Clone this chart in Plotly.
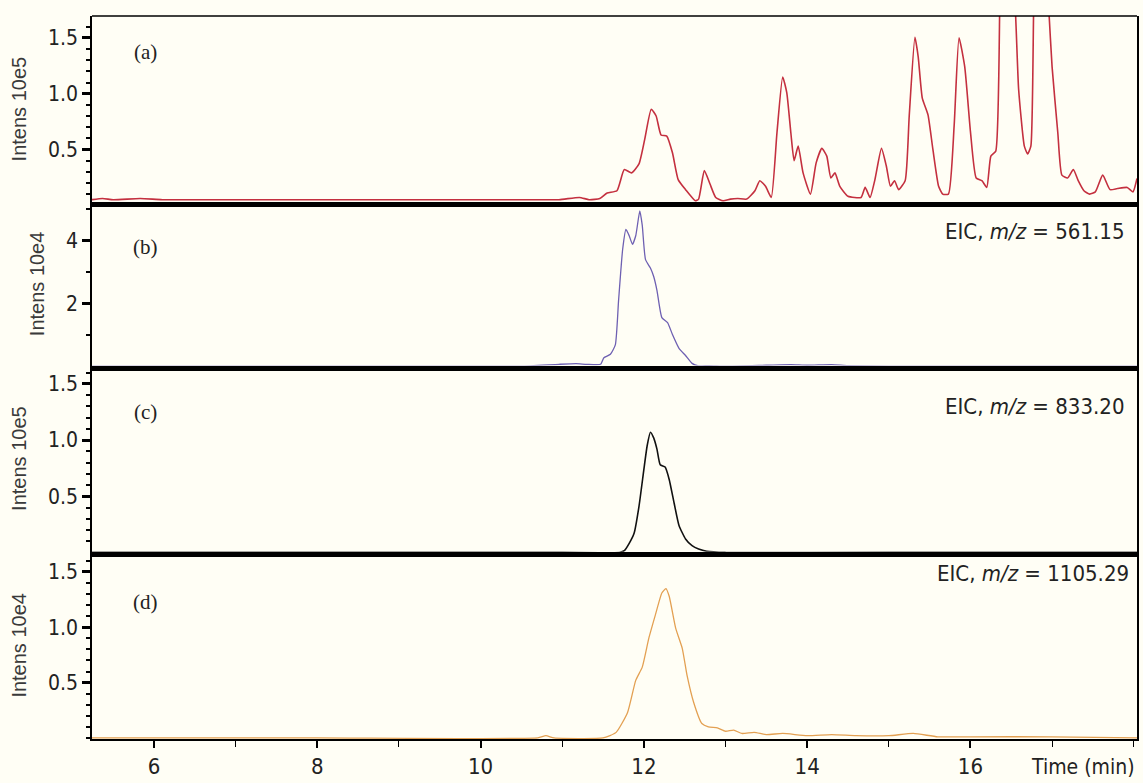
import plotly.graph_objects as go

# ---------------- data ----------------
# (a) total ion chromatogram, intensity in units of 1e5
A_t = [5.24, 5.37, 5.5, 5.83, 6.1, 6.5, 7.0, 7.5, 8.0, 8.5, 9.0, 9.5, 10.0, 10.5, 10.96,
       11.21, 11.33, 11.46, 11.55, 11.67, 11.76, 11.85, 11.94, 12.01, 12.09, 12.15, 12.21,
       12.28, 12.35, 12.42, 12.51, 12.63, 12.67, 12.74, 12.81, 12.88, 12.97, 13.06, 13.15,
       13.26, 13.36, 13.42, 13.49, 13.56, 13.63, 13.70, 13.75, 13.80, 13.84, 13.89, 13.95,
       14.04, 14.11, 14.18, 14.24, 14.29, 14.34, 14.40, 14.50, 14.66, 14.71, 14.77, 14.83,
       14.91, 14.97, 15.02, 15.07, 15.12, 15.20, 15.25, 15.32, 15.36, 15.41, 15.48, 15.54,
       15.61, 15.66, 15.73, 15.80, 15.86, 15.93, 16.00, 16.07, 16.14, 16.20, 16.25, 16.31,
       16.37, 16.45, 16.55, 16.59, 16.66, 16.70, 16.74, 16.78, 16.86, 16.96, 17.00, 17.07,
       17.12, 17.19, 17.26, 17.32, 17.39, 17.46, 17.53, 17.62, 17.71, 17.80, 17.92, 17.99, 18.04]
A_v = [0.05, 0.06, 0.05, 0.06, 0.05, 0.05, 0.05, 0.05, 0.05, 0.05, 0.05, 0.05, 0.05, 0.05, 0.05,
       0.07, 0.05, 0.06, 0.11, 0.13, 0.32, 0.29, 0.37, 0.59, 0.86, 0.80, 0.63,
       0.62, 0.47, 0.23, 0.14, 0.04, 0.055, 0.31, 0.19, 0.07, 0.04, 0.055, 0.06,
       0.055, 0.13, 0.22, 0.17, 0.07, 0.65, 1.15, 1.01, 0.65, 0.40, 0.53, 0.29,
       0.10, 0.38, 0.51, 0.44, 0.245, 0.29, 0.17, 0.08, 0.07, 0.16, 0.07, 0.23,
       0.51, 0.35, 0.17, 0.22, 0.14, 0.22, 0.80, 1.505, 1.33, 0.96, 0.81, 0.50,
       0.17, 0.10, 0.10, 0.71, 1.50, 1.24, 0.66, 0.245, 0.22, 0.16, 0.44, 0.485,
       2.2, 2.8, 1.75, 1.04, 0.53, 0.46, 0.53, 2.0, 3.0, 1.75, 1.24, 0.65,
       0.27, 0.245, 0.32, 0.22, 0.13, 0.10, 0.12, 0.27, 0.14, 0.15, 0.16, 0.12, 0.24]

# (b) EIC m/z 561.15, intensity in units of 1e4
B_t = [5.24, 6.0, 7.0, 8.0, 9.0, 10.0, 10.5, 10.96, 11.17, 11.3, 11.47, 11.51, 11.59, 11.65,
       11.69, 11.74, 11.78, 11.82, 11.86, 11.90, 11.95, 11.98, 12.02, 12.08, 12.12, 12.16,
       12.22, 12.29, 12.35, 12.43, 12.51, 12.59, 12.67, 12.8, 13.0, 13.5, 13.8, 14.0, 14.3,
       14.5, 15.0, 16.0, 17.0, 18.04]
B_v = [0, 0, 0, 0, 0, 0, 0, 0.06, 0.08, 0.06, 0.06, 0.27, 0.38, 0.68,
       2.10, 3.73, 4.36, 4.16, 3.89, 4.16, 4.95, 4.49, 3.40, 3.13, 2.86, 2.42,
       1.55, 1.39, 1.01, 0.57, 0.34, 0.09, 0.01, 0.02, 0, 0.03, 0.05, 0.03, 0.05,
       0.02, 0, 0, 0, 0]

# (c) EIC m/z 833.20, intensity in units of 1e5
C_t = [5.24, 8.0, 11.0, 11.70, 11.76, 11.82, 11.88, 11.94, 12.00, 12.04, 12.08, 12.12, 12.16,
       12.20, 12.26, 12.31, 12.37, 12.43, 12.51, 12.59, 12.67, 12.77, 13.0, 15.0, 18.04]
C_v = [0, 0, 0, 0, 0.015, 0.08, 0.17, 0.41, 0.74, 0.95, 1.07, 1.02, 0.92,
       0.78, 0.76, 0.65, 0.44, 0.24, 0.12, 0.06, 0.03, 0.01, 0, 0, 0]

# (d) EIC m/z 1105.29, intensity in units of 1e4
D_t = [5.24, 8.0, 10.7, 10.8, 10.9, 11.5, 11.66, 11.80, 11.90, 11.98, 12.06, 12.14, 12.22,
       12.27, 12.31, 12.39, 12.47, 12.53, 12.61, 12.71, 12.79, 12.90, 13.0, 13.1, 13.2,
       13.35, 13.5, 13.7, 14.0, 14.3, 14.6, 15.0, 15.3, 15.6, 16.0, 17.0, 18.04]
D_v = [0, 0, 0, 0.02, 0, 0, 0.05, 0.23, 0.52, 0.64, 0.90, 1.11, 1.31,
       1.35, 1.28, 0.99, 0.81, 0.56, 0.32, 0.13, 0.10, 0.09, 0.06, 0.07, 0.04,
       0.05, 0.03, 0.04, 0.02, 0.03, 0.02, 0.02, 0.04, 0.01, 0.01, 0.01, 0]

panel_letters = ["(a)", "(b)", "(c)", "(d)"]
y_titles = ["Intens 10e5", "Intens 10e4", "Intens 10e5", "Intens 10e4"]
eic_labels = [None, "EIC, <i>m/z</i> = 561.15", "EIC, <i>m/z</i> = 833.20", "EIC, <i>m/z</i> = 1105.29"]
x_ticks = [6, 8, 10, 12, 14, 16]
y_ticks = [[0.5, 1.0, 1.5], [2, 4], [0.5, 1.0, 1.5], [0.5, 1.0, 1.5]]
y_ticktext = [["0.5", "1.0", "1.5"], ["2", "4"], ["0.5", "1.0", "1.5"], ["0.5", "1.0", "1.5"]]

# ---------------- styling ----------------
BG = "#fffef5"
NARROW = "Liberation Sans Narrow, Arial Narrow, DejaVu Sans Condensed, Liberation Sans, Arial, sans-serif"
colors = ["#c4303f", "#6e60b2", "#111111", "#e3a052"]
widths = [1.6, 1.3, 1.6, 1.3]
series = [(A_t, A_v), (B_t, B_v), (C_t, C_v), (D_t, D_v)]
domains = [[0.7424, 1.0], [0.5165, 0.7424], [0.2590, 0.5165], [0.0, 0.2590]]
y_ranges = [[0.027, 1.696], [0.02, 5.23], [0.006, 1.664], [-0.01, 1.683]]
minor_dt = [0.1, 1, 0.1, 0.1]
xr = [5.24, 18.04]

fig = go.Figure()
for i, (t, v) in enumerate(series):
    sfx = "" if i == 0 else str(i + 1)
    fig.add_trace(go.Scatter(x=t, y=v, mode="lines", xaxis="x" + sfx, yaxis="y" + sfx,
                             line=dict(color=colors[i], width=widths[i], shape="spline",
                                       smoothing=0.5),
                             showlegend=False, hoverinfo="skip"))

layout = dict(
    width=1143, height=783,
    margin=dict(l=92, r=4, t=16, b=41),
    paper_bgcolor=BG, plot_bgcolor=BG,
    showlegend=False,
)
for i in range(4):
    sfx = "" if i == 0 else str(i + 1)
    last = i == 3
    xa = dict(domain=[0, 1], anchor="y" + sfx, range=xr, showgrid=False, zeroline=False,
              showline=True, linecolor="black", linewidth=2 if last else 5)
    if last:
        xa.update(ticks="outside", ticklen=7, tickwidth=1.5, tickcolor="black",
                  tickvals=x_ticks, ticktext=[str(k) for k in x_ticks],
                  tickfont=dict(family=NARROW, size=22, color="#222"),
                  minor=dict(dtick=1, tick0=0, ticks="outside", ticklen=6, tickwidth=1.2,
                             tickcolor="black"))
    else:
        xa.update(ticks="", showticklabels=False, matches="x4")
    ya = dict(domain=domains[i], anchor="x" + sfx, range=y_ranges[i], showgrid=False,
              zeroline=False, showline=True, linecolor="black", linewidth=1.5, mirror=True,
              ticks="outside", ticklen=8, tickwidth=2.5, tickcolor="black",
              tickvals=y_ticks[i], ticktext=y_ticktext[i],
              tickfont=dict(family=NARROW, size=21, color="#222"),
              minor=dict(dtick=minor_dt[i], tick0=0, ticks="outside", ticklen=4, tickwidth=2,
                         tickcolor="black"),
              title=dict(text=y_titles[i], standoff=16,
                         font=dict(family="Liberation Sans, Arial, sans-serif", size=20,
                                   color="#3a3a3a")))
    layout["xaxis" + sfx] = xa
    layout["yaxis" + sfx] = ya
fig.update_layout(**layout)

# top border of the upper panel
fig.add_shape(type="line", xref="paper", yref="paper", x0=0, x1=1, y0=1, y1=1,
              line=dict(color="black", width=1.5))

# panel letters and EIC labels
letter_y = [0.808, 0.724, 0.75, 0.734]
eic_y = [0, 0.822, 0.78, 0.886]
for i in range(4):
    sfx = "" if i == 0 else str(i + 1)
    fig.add_annotation(text=panel_letters[i], xref="x" + sfx + " domain", yref="y" + sfx + " domain",
                       x=0.051, y=letter_y[i], xanchor="center", yanchor="middle", showarrow=False,
                       font=dict(family="Liberation Serif, Times New Roman, serif", size=21,
                                 color="#222"))
    if eic_labels[i]:
        fig.add_annotation(text=eic_labels[i], xref="x" + sfx + " domain", yref="y" + sfx + " domain",
                           x=0.9895 if i < 3 else 0.9945, y=eic_y[i],
                           xanchor="right", yanchor="middle", showarrow=False,
                           font=dict(family=NARROW, size=22, color="#222"))

fig.add_annotation(text="Time (min)", xref="paper", yref="paper", x=1.0, y=-0.0386,
                   xanchor="right", yanchor="middle", showarrow=False,
                   font=dict(family=NARROW, size=21, color="#222"))

fig.write_html("out.html")
